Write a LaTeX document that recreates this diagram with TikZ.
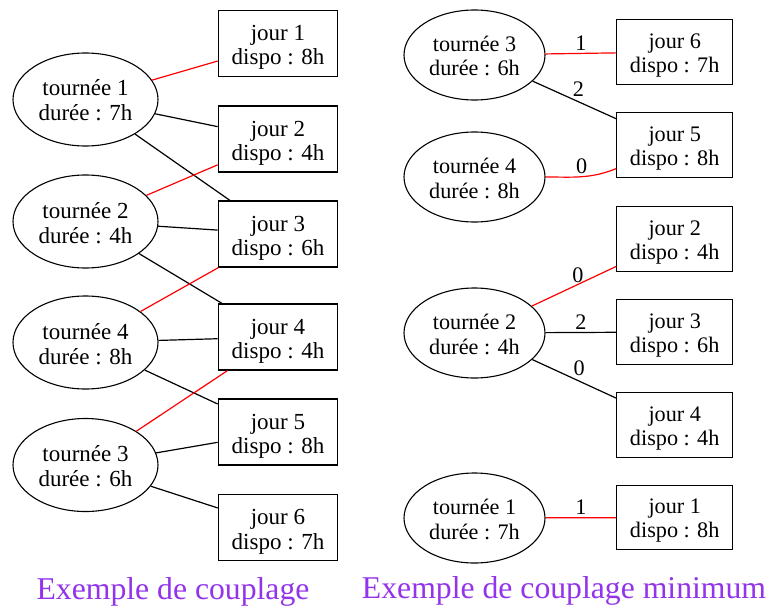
\documentclass[tikz,border=0pt]{standalone}
\usepackage{fontspec}
\setmainfont{Liberation Serif}
\usetikzlibrary{shapes.geometric}
\definecolor{titleviolet}{RGB}{147,51,234}
\tikzset{
  tourL/.style={ellipse, draw, line width=1.1pt, minimum width=145pt, minimum height=93pt,
    inner sep=0pt, align=center, text height=43pt, text depth=0pt,
    font=\fontsize{23}{25}\selectfont},
  jourL/.style={rectangle, draw, line width=1.1pt, minimum width=119.5pt, minimum height=66pt,
    inner sep=0pt, align=center, text height=43pt, text depth=0pt,
    font=\fontsize{23}{24.5}\selectfont},
  tourR/.style={ellipse, draw, line width=1.1pt, minimum width=141pt, minimum height=90pt,
    inner sep=0pt, align=center, text height=42pt, text depth=0pt,
    font=\fontsize{22.2}{24.5}\selectfont},
  jourR/.style={rectangle, draw, line width=1.1pt, minimum width=116pt, minimum height=64.5pt,
    inner sep=0pt, align=center, text height=40.5pt, text depth=0pt,
    font=\fontsize{22.2}{24}\selectfont},
  edge/.style={line width=1.2pt, black},
  matched/.style={line width=1.2pt, red},
  lbl/.style={inner sep=2.5pt, text=black, font=\fontsize{22.2}{24}\selectfont},
  caption/.style={text=titleviolet, inner sep=0pt, font=\fontsize{31.7}{34}\selectfont}
}
\begin{document}
\begin{tikzpicture}[x=1pt, y=-1pt]
\useasboundingbox (0,0) rectangle (770,607);

% ---- left graph: a matching ----
\node[tourL] (lt1) at (85.5,99.5) {tournée 1\\durée : 7h};
\node[tourL] (lt2) at (85.5,221.5) {tournée 2\\durée : 4h};
\node[tourL] (lt4) at (85.5,342.5) {tournée 4\\durée : 8h};
\node[tourL] (lt3) at (85.5,465) {tournée 3\\durée : 6h};

\node[jourL] (lj1) at (278,43.5) {jour 1\\dispo : 8h};
\node[jourL] (lj2) at (278,139) {jour 2\\dispo : 4h};
\node[jourL] (lj3) at (278,234) {jour 3\\dispo : 6h};
\node[jourL] (lj4) at (278,337) {jour 4\\dispo : 4h};
\node[jourL] (lj5) at (278,432) {jour 5\\dispo : 8h};
\node[jourL] (lj6) at (278,527.5) {jour 6\\dispo : 7h};

\draw[matched] (lt1) -- (lj1);
\draw[edge] (lt1) -- (lj2);
\draw[edge] (lt1) -- (lj3);
\draw[matched] (lt2) -- (lj2);
\draw[edge] (lt2) -- (lj3);
\draw[edge] (lt2) -- (lj4);
\draw[matched] (lt4) -- (lj3);
\draw[edge] (lt4) -- (lj4);
\draw[edge] (lt4) -- (lj5);
\draw[matched] (lt3) -- (lj4);
\draw[edge] (lt3) -- (lj5);
\draw[edge] (lt3) -- (lj6);

\node[caption, anchor=base] (capL) at (173,599) {Exemple de couplage};

% ---- right graph: a minimum matching with edge weights ----
\node[tourR] (rt3) at (474.5,55) {tournée 3\\durée : 6h};
\node[tourR] (rt4) at (474.5,177) {tournée 4\\durée : 8h};
\node[tourR] (rt2) at (474.5,333) {tournée 2\\durée : 4h};
\node[tourR] (rt1) at (474.5,518) {tournée 1\\durée : 7h};

\node[jourR] (rj6) at (674.7,52) {jour 6\\dispo : 7h};
\node[jourR] (rj5) at (674.7,145) {jour 5\\dispo : 8h};
\node[jourR] (rj2) at (674.7,239) {jour 2\\dispo : 4h};
\node[jourR] (rj3) at (674.7,332) {jour 3\\dispo : 6h};
\node[jourR] (rj4) at (674.7,425) {jour 4\\dispo : 4h};
\node[jourR] (rj1) at (674.7,517.5) {jour 1\\dispo : 8h};

\draw[matched] (rt3) -- node[lbl, above] {1} (rj6);
\draw[edge] (rt3) -- node[lbl, above, xshift=4pt] {2} (rj5);
\draw[matched] (rt4) to[out=0, in=202] node[lbl, above] {0} (rj5);
\draw[matched] (rt2) -- node[lbl, above, xshift=4pt] {0} (rj2);
\draw[edge] (rt2) -- node[lbl, above] {2} (rj3);
\draw[edge] (rt2) -- node[lbl, above, xshift=5pt] {0} (rj4);
\draw[matched] (rt1) -- node[lbl, above] {1} (rj1);

\node[caption, anchor=base] (capR) at (564,598) {Exemple de couplage minimum};
\end{tikzpicture}
\end{document}
